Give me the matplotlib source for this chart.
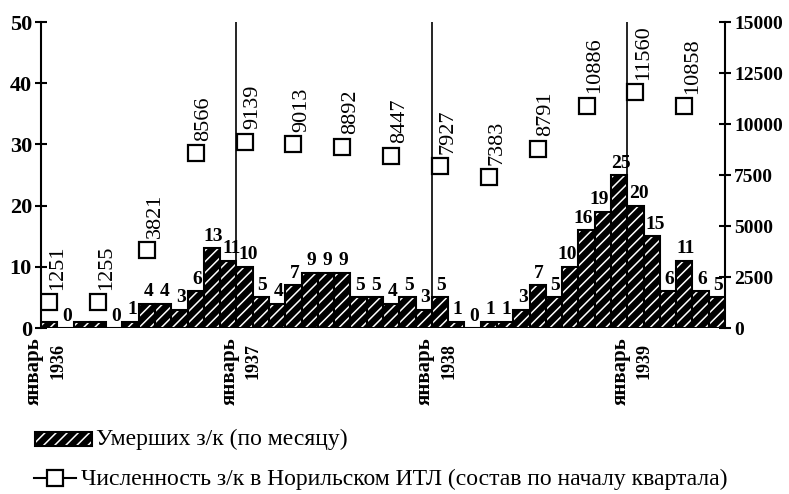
"""Monthly deaths vs. quarterly headcount, Norillag 1936-1939."""

import matplotlib
matplotlib.use("Agg")
import matplotlib.pyplot as plt
from matplotlib.lines import Line2D
from matplotlib.patches import Rectangle

plt.rcParams["font.family"] = ["Liberation Serif", "DejaVu Serif"]
plt.rcParams["hatch.linewidth"] = 1.1

# monthly deaths, Jan 1936 .. Jun 1939 (index 0 = Jan 1936)
deaths = [1, 0, 1, 1, 0, 1, 4, 4, 3, 6, 13, 11,
          10, 5, 4, 7, 9, 9, 9, 5, 5, 4, 5, 3,
          5, 1, 0, 1, 1, 3, 7, 5, 10, 16, 19, 25,
          20, 15, 6, 11, 6, 5]
death_labels = ["", "0", "", "", "0", "1", "4", "4", "3", "6", "13", "11",
                "10", "5", "4", "7", "9", "9", "9", "5", "5", "4", "5", "3",
                "5", "1", "0", "1", "1", "3", "7", "5", "10", "16", "19", "25",
                "20", "15", "6", "11", "6", "5"]

# headcount at start of quarter (month index)
quarter_month = [0, 3, 6, 9, 12, 15, 18, 21, 24, 27, 30, 33, 36, 39]
headcount = [1251, 1255, 3821, 8566, 9139, 9013, 8892, 8447, 7927,
             7383, 8791, 10886, 11560, 10858]

years = ["1936", "1937", "1938", "1939"]
year_start = [0, 12, 24, 36]

left_ticks = [0, 10, 20, 30, 40, 50]
right_ticks = [0, 2500, 5000, 7500, 10000, 12500, 15000]

W, H = 789, 494
fig = plt.figure(figsize=(W / 100, H / 100), dpi=100)
ax = fig.add_axes([41 / W, 1 - 328 / H, (725 - 41) / W, (328 - 22) / H])
ax2 = ax.twinx()

x = [i + 0.5 for i in range(len(deaths))]
ax.bar(x, deaths, width=1.0, color="black", edgecolor="white",
       linewidth=0, hatch="///", zorder=2)
ax.bar(x, deaths, width=1.0, fill=False, edgecolor="black",
       linewidth=1.5, zorder=3)

# two-digit labels are wider than a bar: nudge them off a taller neighbour
n = len(deaths)
for i, (xi, v, lab) in enumerate(zip(x, deaths, death_labels)):
    if not lab:
        continue
    prev_taller = i > 0 and deaths[i - 1] > v
    next_taller = i < n - 1 and deaths[i + 1] > v
    dx = 1
    if len(lab) > 1:
        if next_taller and not prev_taller:
            dx = -2.5
        elif prev_taller and not next_taller:
            dx = 2.5
    ax.annotate(lab, (xi, v), xytext=(dx, 2.5), textcoords="offset points",
                ha="center", va="bottom", fontsize=14, fontweight="bold",
                zorder=5)

for ys in year_start[1:]:
    ax.axvline(ys, color="black", lw=1.2, zorder=1)

for ys, yr in zip(year_start, years):
    ax.annotate("январь", (ys, 0), xycoords=("data", "axes fraction"),
                xytext=(-5, -7), textcoords="offset points", rotation=90,
                ha="center", va="top", fontsize=15, fontweight="bold")
    ax.annotate(yr, (ys, 0), xycoords=("data", "axes fraction"),
                xytext=(12, -11), textcoords="offset points", rotation=90,
                ha="center", va="top", fontsize=13, fontweight="bold")

qx = [m + 0.5 for m in quarter_month]
ax2.plot(qx, headcount, ls="none", marker="s", markersize=12,
         markerfacecolor="white", markeredgecolor="black",
         markeredgewidth=1.6, zorder=4)
for xi, v in zip(qx, headcount):
    ax2.annotate(str(v), (xi, v), xytext=(6, 9), textcoords="offset points",
                 rotation=90, ha="center", va="bottom", fontsize=16)

ax.set_xlim(0, 42)
ax.set_ylim(0, 50)
ax2.set_ylim(0, 15000)
ax.set_xticks([])
ax.set_yticks(left_ticks)
ax2.set_yticks(right_ticks)
for a in (ax, ax2):
    for s in ("top", "bottom"):
        a.spines[s].set_visible(False)
    a.patch.set_visible(False)
ax.spines["right"].set_visible(False)
ax2.spines["left"].set_visible(False)
ax.spines["left"].set_linewidth(1.5)
ax2.spines["right"].set_linewidth(1.5)
ax.tick_params(axis="y", direction="inout", length=9, width=1.5, pad=2,
               labelsize=16)
ax2.tick_params(axis="y", direction="inout", length=9, width=1.5, pad=2,
                labelsize=14)
for t in ax.get_yticklabels() + ax2.get_yticklabels():
    t.set_fontweight("bold")
ax2.set_zorder(ax.get_zorder() + 1)

# legend, drawn by hand in figure pixels
def fx(px):
    return px / W


def fy(py):
    return 1 - py / H


fig.add_artist(Rectangle((fx(35), fy(446)), fx(57), 14 / H,
                         facecolor="black", edgecolor="white", linewidth=0,
                         hatch="///", transform=fig.transFigure))
fig.add_artist(Rectangle((fx(35), fy(446)), fx(57), 14 / H, fill=False,
                         edgecolor="black", linewidth=1.5,
                         transform=fig.transFigure))
fig.text(fx(96), fy(439), "Умерших з/к (по месяцу)", fontsize=17,
         va="center", ha="left")
fig.add_artist(Line2D([fx(34), fx(76)], [fy(478), fy(478)], color="black",
                      lw=1.5, marker="", transform=fig.transFigure))
fig.add_artist(Line2D([fx(55)], [fy(478)], color="black", ls="none",
                      marker="s", markersize=12, markerfacecolor="white",
                      markeredgewidth=1.6, transform=fig.transFigure))
fig.text(fx(81), fy(479),
         "Численность з/к в Норильском ИТЛ (состав по началу квартала)",
         fontsize=17, va="center", ha="left")

fig.savefig("out.png", dpi=100)
